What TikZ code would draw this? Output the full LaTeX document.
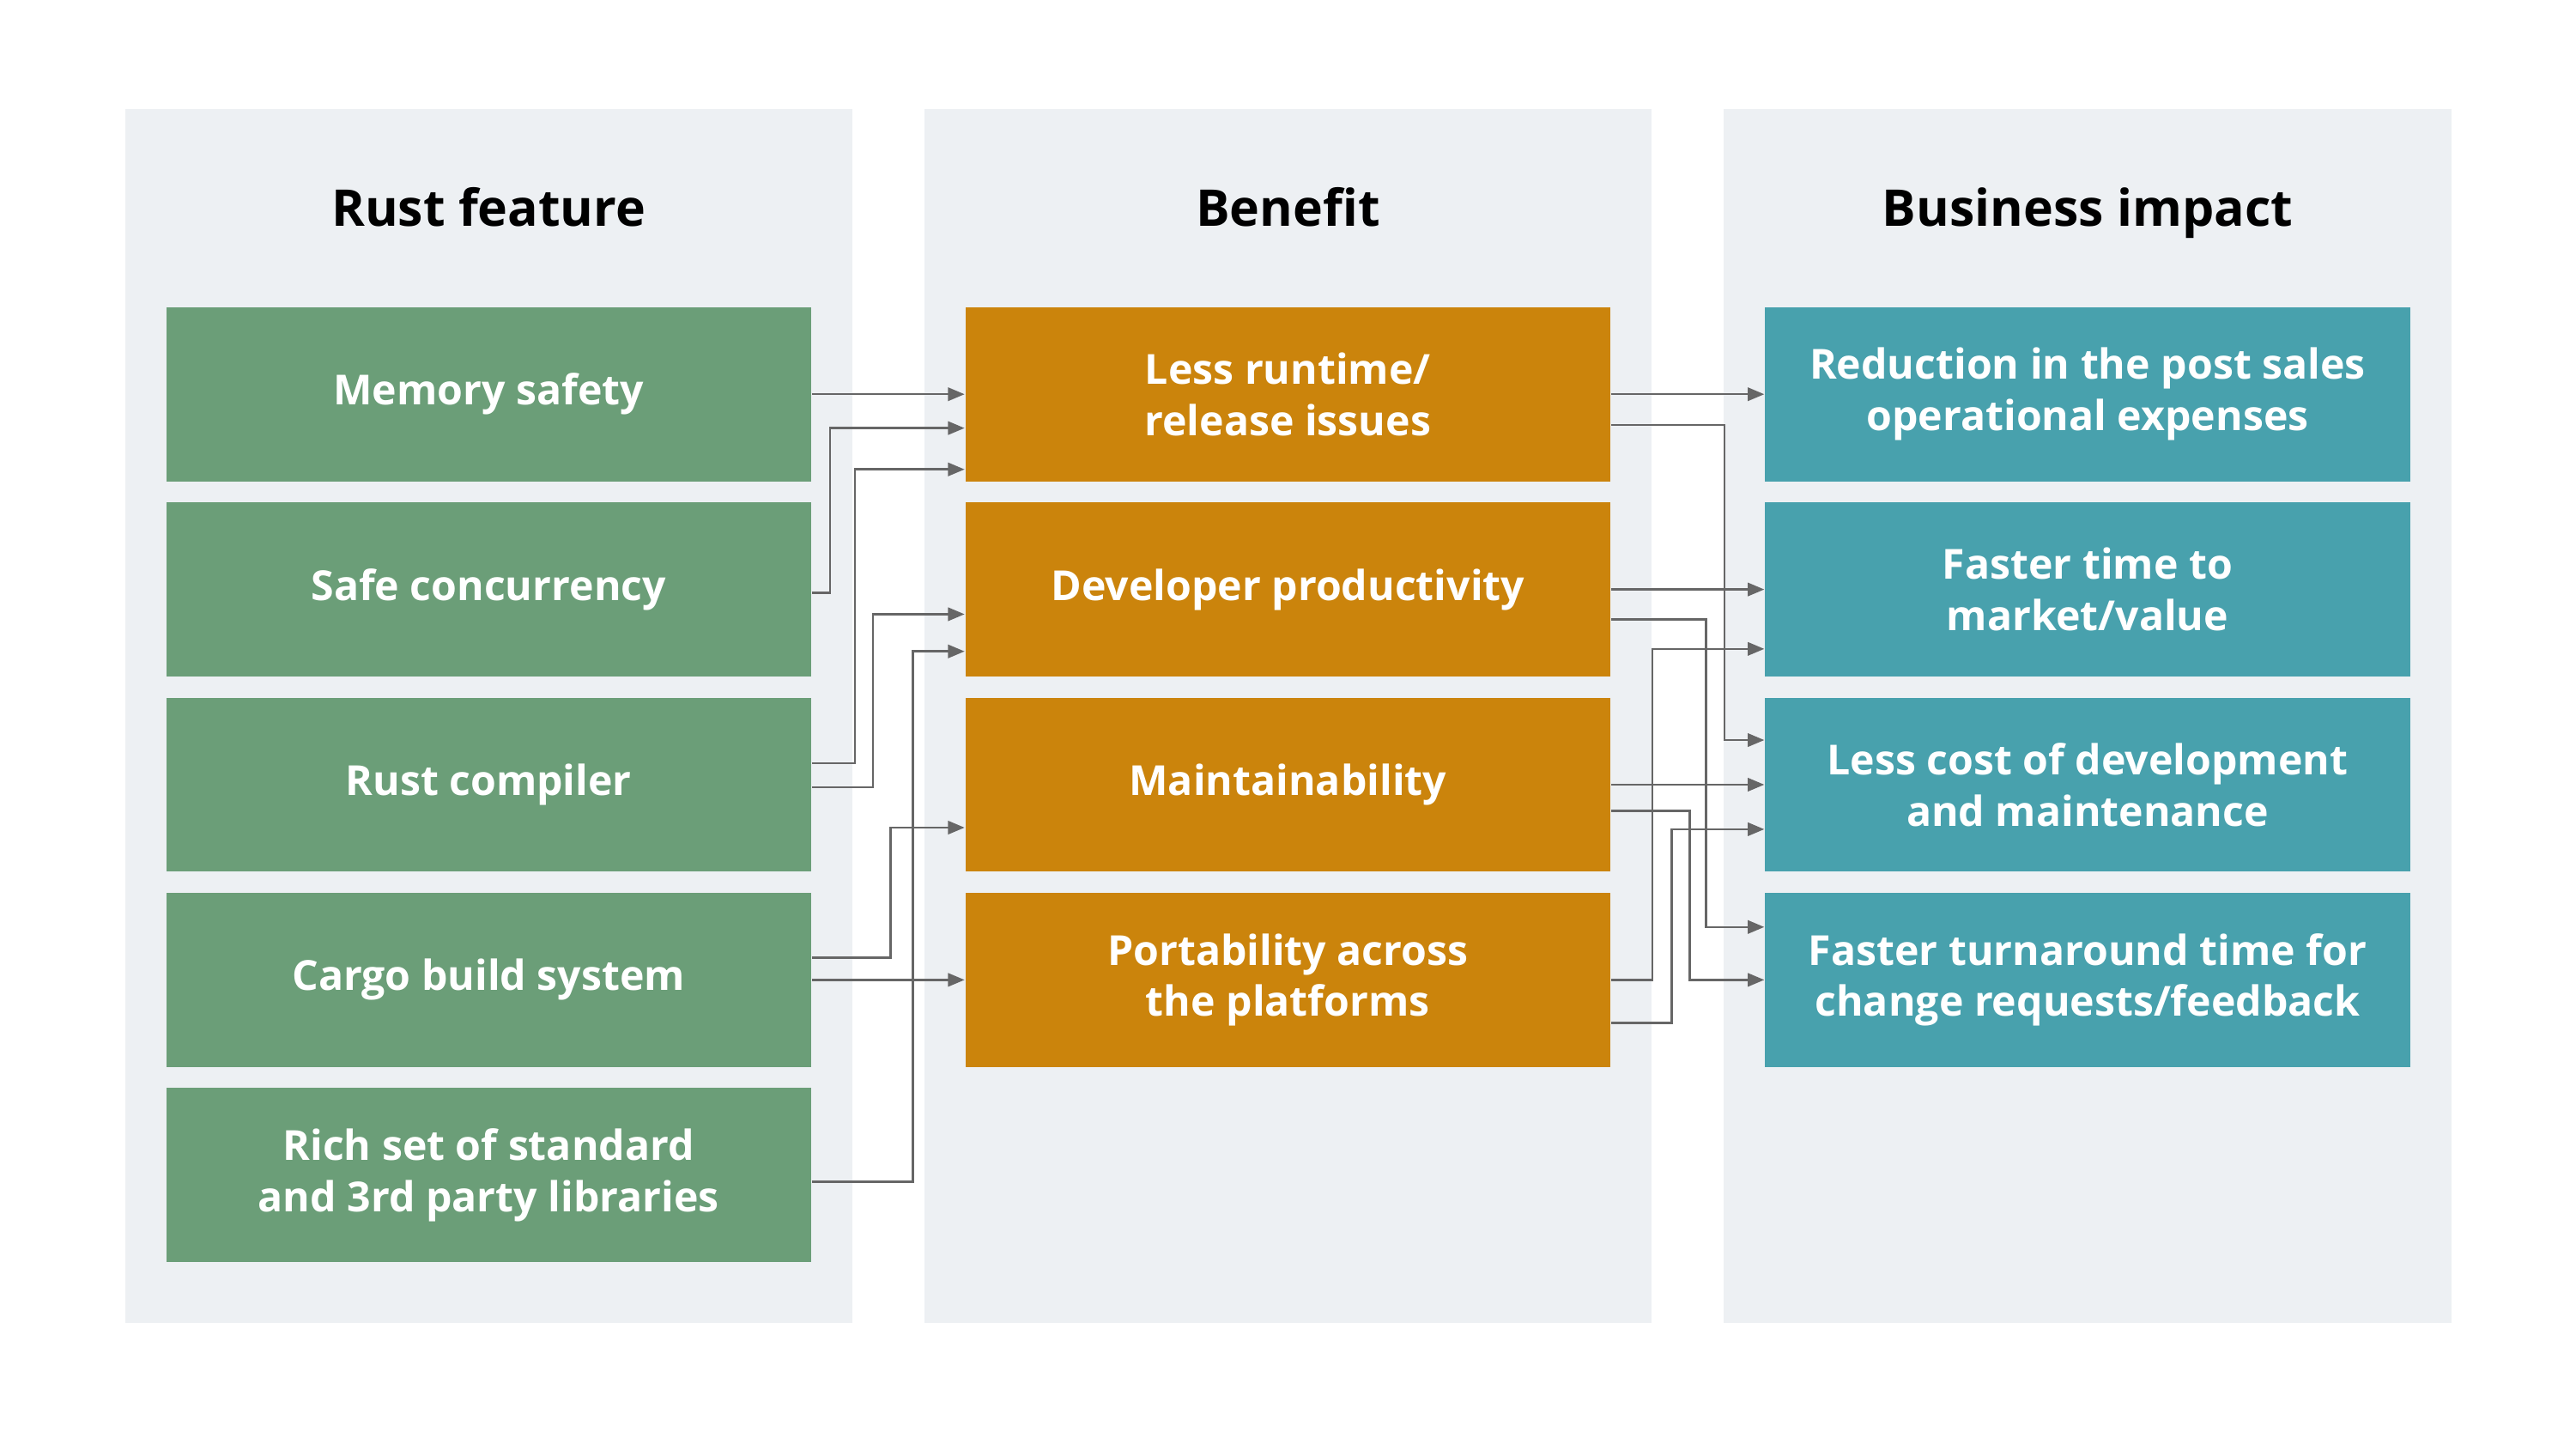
\documentclass[tikz,border=0pt]{standalone}
\usepackage{fontspec}
\setmainfont{Open Sans}
\usetikzlibrary{calc,arrows.meta}

\definecolor{colbg}{RGB}{237,240,243}
\definecolor{featgreen}{RGB}{107,158,120}
\definecolor{benorange}{RGB}{203,132,12}
\definecolor{impteal}{RGB}{72,161,173}
\definecolor{linkgray}{RGB}{102,102,102}

\tikzset{every picture/.style={line width=0.75pt}}
\tikzset{
  colbox/.style={fill=colbg,draw=none},
  coltitle/.style={anchor=base,inner sep=0.75pt,font=\fontsize{23}{27}\selectfont\bfseries,text=black},
  itembox/.style={minimum width=292.9pt,minimum height=79.1pt,inner sep=0pt,align=center,
    text=white,font=\fontsize{18.8}{23.3}\selectfont\bfseries},
  featbox/.style={itembox,fill=featgreen},
  benbox/.style={itembox,fill=benorange},
  impbox/.style={itembox,fill=impteal},
  link/.style={draw=linkgray,line width=1pt,-{Triangle[length=7.5pt,width=6pt]}}
}

\begin{document}
\begin{tikzpicture}[x=0.75pt,y=0.75pt,yscale=-1,xscale=1]
%set diagram left start at 0, and has height of 867
\fill[white] (0,0) rectangle (1560,867.06);

%Shape: Rectangle [columns]
\fill[colbox] (75.7,66) rectangle (516,800.9);
\fill[colbox] (559.9,66) rectangle (1000.2,800.9);
\fill[colbox] (1043.8,66) rectangle (1484.5,800.9);

% Text Node
\draw (295.9,136.8) node [coltitle] (h1) {Rust feature};
% Text Node
\draw (780,136.8) node [coltitle] (h2) {Benefit};
% Text Node
\draw (1264.2,136.8) node [coltitle] (h3) {Business impact};

%Shape: Rectangle [features]
\draw (295.9,238.7) node [featbox] (g1) {Memory safety};
\draw (295.9,356.9) node [featbox] (g2) {Safe concurrency};
\draw (295.9,475.1) node [featbox] (g3) {Rust compiler};
\draw (295.9,593.3) node [featbox] (g4) {Cargo build system};
\draw (295.9,711.5) node [featbox] (g5) {Rich set of standard\\and 3rd party libraries};

%Shape: Rectangle [benefits]
\draw (779.9,238.7) node [benbox] (o1) {Less runtime/\\release issues};
\draw (779.9,356.9) node [benbox] (o2) {Developer productivity};
\draw (779.9,475.1) node [benbox] (o3) {Maintainability};
\draw (779.9,593.3) node [benbox] (o4) {Portability across\\the platforms};

%Shape: Rectangle [impacts]
\draw (1264.2,238.7) node [impbox] (t1) {Reduction in the post sales\\operational expenses};
\draw (1264.2,356.9) node [impbox] (t2) {Faster time to\\market/value};
\draw (1264.2,475.1) node [impbox] (t3) {Less cost of development\\and maintenance};
\draw (1264.2,593.3) node [impbox] (t4) {Faster turnaround time for\\change requests/feedback};

%Straight Lines [feature to benefit]
\draw [link] (g1.east) -- (o1.west);
\draw [link] ($(g2.east)+(0,2)$) -- ++(11,0) |- ($(o1.west)+(0,20.5)$);
\draw [link] ($(g3.east)+(0,-13)$) -- ++(26,0) |- ($(o1.west)+(0,45.5)$);
\draw [link] ($(g3.east)+(0,1.5)$) -- ++(37,0) |- ($(o2.west)+(0,15)$);
\draw [link] ($(g5.east)+(0,4)$) -- ++(61.2,0) |- ($(o2.west)+(0,37.5)$);
\draw [link] ($(g4.east)+(0,-13.5)$) -- ++(47.7,0) |- ($(o3.west)+(0,26)$);
\draw [link] (g4.east) -- (o4.west);

%Straight Lines [benefit to impact]
\draw [link] (o1.east) -- (t1.west);
\draw [link] ($(o1.east)+(0,18.5)$) -- ++(68.6,0) |- ($(t3.west)+(0,-27)$);
\draw [link] (o2.east) -- (t2.west);
\draw [link] ($(o2.east)+(0,18)$) -- ++(57.5,0) |- ($(t4.west)+(0,-32)$);
\draw [link] (o3.east) -- (t3.west);
\draw [link] ($(o3.east)+(0,16)$) -- ++(47.5,0) |- (t4.west);
\draw [link] (o4.east) -- ++(25,0) |- ($(t2.west)+(0,36)$);
\draw [link] ($(o4.east)+(0,26)$) -- ++(36.8,0) |- ($(t3.west)+(0,27)$);
\end{tikzpicture}
\end{document}
